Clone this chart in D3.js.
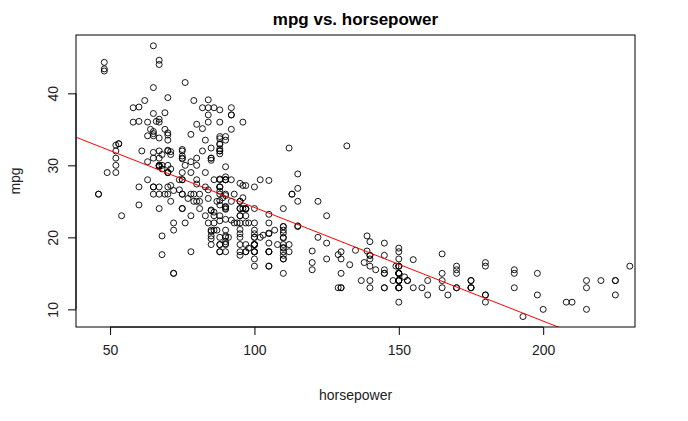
<!DOCTYPE html><html><head><meta charset="utf-8"><script src="https://cdn.jsdelivr.net/npm/d3@7"></script>
<style>body{margin:0;background:#fff}text{font-family:"Liberation Sans",Arial,sans-serif}</style></head><body><svg id="c" width="688" height="421"></svg>
<script>
const horsepower=[130,165,150,150,140,198,220,215,225,190,170,160,150,225,95,95,97,85,88,46,87,90,95,113,90,215,200,210,193,88,90,95,100,105,100,88,100,165,175,153,150,180,170,175,110,72,100,88,86,90,70,76,65,69,60,70,95,80,54,90,86,165,175,150,153,150,208,155,160,190,97,150,130,140,150,112,76,87,69,86,92,97,80,88,175,150,145,137,150,198,150,158,150,215,225,175,105,100,100,88,95,46,150,167,170,180,100,88,72,94,90,85,107,90,145,230,49,75,91,112,150,110,122,180,95,100,100,67,80,65,75,100,110,105,140,150,150,140,150,83,67,78,52,61,75,75,75,97,93,67,95,105,72,72,170,145,150,148,110,105,110,95,110,110,129,75,83,100,78,96,71,97,97,70,90,95,88,98,115,53,86,81,92,79,83,140,150,120,152,100,105,81,90,52,60,70,53,100,78,110,95,71,70,75,72,102,150,88,108,120,180,145,130,150,68,80,58,96,70,145,110,145,130,110,105,100,98,180,170,190,149,78,88,75,89,63,83,67,78,97,110,110,48,66,52,70,60,110,140,139,105,95,85,88,100,90,105,85,110,120,145,165,139,140,68,95,97,75,95,105,85,97,103,125,115,133,71,68,115,85,88,90,110,130,129,138,135,155,142,125,150,71,65,80,80,77,125,71,90,70,70,65,69,90,115,115,90,76,60,70,65,90,88,90,90,78,90,75,92,75,65,105,65,48,48,67,67,67,67,67,132,85,92,112,96,84,90,86,52,84,79,82,88,84,88,63,65,65,67,88,88,85,88,88,88,85,84,90,92,74,68,68,63,70,88,75,70,67,67,67,92,85,92,88,96,84,90,86,52,84,79,82,88,84,88,63,65,65,67,88,88,85,62,58,64,74,81,93,113,122,100,102,82,76];
const mpg=[18,15,18,16,17,15,14,14,14,15,15,14,15,14,24,22,18,21,27,26,25,24,25,26,21,10,10,11,9,27,28,25,19,16,17,19,18,14,14,14,14,12,13,13,18,22,19,18,23,28,30,30,31,35,27,26,24,25,23,20,21,13,14,15,14,17,11,13,12,13,19,15,13,13,14,18,22,21,26,22,28,23,28,27,13,14,13,14,15,12,13,13,14,13,12,13,18,16,18,18,23,26,11,12,13,12,18,20,21,22,18,19,21,26,15,16,29,24,20,19,15,24,20,11,20,21,19,32,31,26,32,24,19,18,16,15,13,14,14,29,26,26,31,32,28,24,26,24,26,31,19,18,15,15,16,15,16,14,17,16,15,18,21,20,13,29,23,20,23,24,25,24,18,29,19,23,23,22,25,33,28,25,25,26,27,17.5,16,15.5,14.5,22,22,24,22.5,29,24.5,29,33,20,18,18.5,17.5,29.5,32,28,26.5,20,13,19,19,16.5,16.5,13,13,13,31.5,30,36,25.5,33.5,17.5,17,15.5,15,17.5,20.5,19,18.5,16,15.5,15.5,16,29,24.5,26,25.5,30.5,33.5,30,30.5,22,21.5,21.5,43.1,36.1,32.8,39.4,36.1,19.9,19.4,20.2,19.2,20.5,20.2,25.1,20.5,19.4,20.6,20.8,18.6,18.1,19.2,17.7,18.1,17.5,30,27.5,27.2,30.9,21.1,23.2,23.8,23.9,20.3,17,21.6,16.2,31.5,29.5,21.5,19.8,22.3,20.2,20.6,17,17.6,16.5,18.2,16.9,15.5,19.2,18.5,31.9,34.1,35.7,27.4,25.4,23,27.2,23.9,34.2,34.5,31.8,37.3,28.4,28.8,26.8,33.5,41.5,38.1,32.1,37.2,28,26.4,24.3,19.1,34.3,29.8,31.3,37,32.2,46.6,27.9,40.8,44.3,43.4,36.4,30,44.6,33.8,29.8,32.7,23.7,35,32.4,27.2,26.6,25.8,23.5,30,39.1,39,35.1,32.3,37,37.7,34.1,34.7,34.4,29.9,33,33.7,32.4,32.9,31.6,28.1,30.7,25.4,24.2,22.4,26.6,20.2,17.6,28,27,34,31,29,27,24,36,37,31,38,36,36,36,34,38,32,38,25,38,26,22,32,36,27,27,44,32,28,31,39,38,35,28,26,22,26,25,27,28,32];
const xTicks=[50,100,150,200], yTicks=[10,20,30,40];
const coef=[39.936,-0.15784];
const svg=d3.select("#c");
const L=76,R=635,T=35,B=327;
const x=d3.scaleLinear().domain([38.2,231.8]).range([L,R]);
const y=d3.scaleLinear().domain([7.55,48.1]).range([B,T]);
const n=Math.min(horsepower.length,mpg.length);
const g=svg.append("g");
g.selectAll("circle").data(d3.range(n)).join("circle").attr("cx",i=>x(horsepower[i])).attr("cy",i=>y(mpg[i])).attr("r",3).attr("fill","none").attr("stroke","#000").attr("stroke-width",0.9);
svg.append("clipPath").attr("id","cl").append("rect").attr("x",L).attr("y",T).attr("width",R-L).attr("height",B-T);
svg.append("line").attr("clip-path","url(#cl)").attr("x1",x(30)).attr("x2",x(250)).attr("y1",y(coef[0]+coef[1]*30)).attr("y2",y(coef[0]+coef[1]*250)).attr("stroke","#ff0000").attr("stroke-width",1);
svg.append("rect").attr("x",L).attr("y",T).attr("width",R-L).attr("height",B-T).attr("fill","none").attr("stroke","#000");
const xa=svg.append("g").attr("transform",`translate(0,${B})`).call(d3.axisBottom(x).tickValues(xTicks).tickSize(8).tickPadding(10));
const ya=svg.append("g").attr("transform",`translate(${L},0)`).call(d3.axisLeft(y).tickValues(yTicks).tickSize(8).tickPadding(10));
[xa,ya].forEach(a=>{a.selectAll("text").attr("font-size",14).attr("fill","#222").style("font-family","Liberation Sans, Arial");a.select(".domain").remove();});
svg.append("line").attr("x1",x(50)).attr("x2",x(200)).attr("y1",B).attr("y2",B).attr("stroke","#000");
svg.append("line").attr("x1",L).attr("x2",L).attr("y1",y(10)).attr("y2",y(40)).attr("stroke","#000");
ya.selectAll(".tick text").attr("text-anchor","middle").attr("transform",`translate(-23,0) rotate(-90)`).attr("x",0).attr("dy","0.35em");
svg.append("text").attr("x",(L+R)/2).attr("y",25).attr("text-anchor","middle").attr("font-size",17).attr("font-weight","bold").text("mpg vs. horsepower");
svg.append("text").attr("x",(L+R)/2).attr("y",400).attr("text-anchor","middle").attr("font-size",14).attr("fill","#222").text("horsepower");
svg.append("text").attr("transform",`translate(20,${(T+B)/2}) rotate(-90)`).attr("text-anchor","middle").attr("font-size",14).attr("fill","#222").text("mpg");
</script></body></html>
